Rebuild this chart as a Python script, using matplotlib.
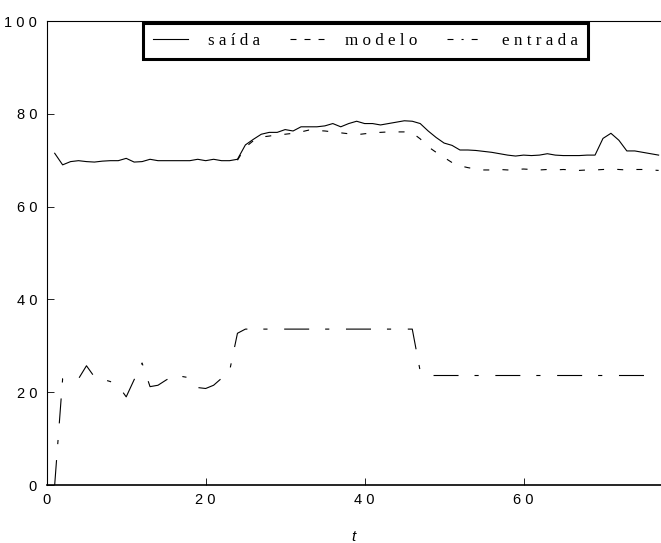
#Imports
import numpy as np
import matplotlib
matplotlib.use('Agg')
import matplotlib.pyplot as plt
from matplotlib.lines import Line2D

plt.rcParams['lines.scale_dashes'] = False

# Data (t in samples)
t = np.arange(1, 78)

saida = [71.5, 69.0, 69.7, 69.9, 69.7, 69.6, 69.8, 69.9, 69.9, 70.4,
         69.6, 69.7, 70.2, 69.9, 69.9, 69.9, 69.9, 69.9, 70.2, 69.9,
         70.2, 69.9, 69.9, 70.2, 73.3, 74.5, 75.6, 76.0, 76.0, 76.6,
         76.3, 77.2, 77.2, 77.2, 77.4, 77.9, 77.2, 77.9, 78.4, 77.9,
         77.9, 77.6, 77.9, 78.2, 78.5, 78.4, 77.9, 76.3, 74.9, 73.7,
         73.2, 72.2, 72.2, 72.1, 71.9, 71.7, 71.4, 71.1, 70.9, 71.1,
         71.0, 71.1, 71.4, 71.1, 71.0, 71.0, 71.0, 71.1, 71.1, 74.7,
         75.8, 74.3, 72.0, 72.0, 71.7, 71.4, 71.1]

t_modelo = np.arange(24, 78)
modelo = [70.0, 72.8, 74.2, 75.0, 75.2, 75.5, 75.6, 75.8, 76.1, 76.5,
          76.4, 76.3, 76.1, 75.9, 75.7, 75.5, 75.7, 75.9, 76.0, 76.1,
          76.1, 76.1, 75.9, 74.6, 72.9, 71.7, 70.6, 69.5, 68.8, 68.4,
          68.1, 67.9, 67.9, 68.0, 67.9, 68.0, 68.1, 68.0, 67.9, 68.0,
          67.9, 68.0, 67.9, 67.8, 67.9, 67.9, 68.0, 68.1, 68.0, 67.9,
          68.0, 68.0, 67.9, 67.8]

entrada = [0.0, 22.9, 22.9, 22.9, 25.7, 23.3, 22.8, 22.3, 21.4, 19.0,
           22.7, 26.3, 21.2, 21.5, 22.6, 23.6, 23.4, 23.1, 21.0, 20.8,
           21.5, 23.0, 24.5, 32.7, 33.6, 33.6, 33.6, 33.6, 33.6, 33.6,
           33.6, 33.6, 33.6, 33.6, 33.6, 33.6, 33.6, 33.6, 33.6, 33.6,
           33.6, 33.6, 33.6, 33.6, 33.6, 33.6, 24.5, 23.6, 23.6, 23.6,
           23.6, 23.6, 23.6, 23.6, 23.6, 23.6, 23.6, 23.6, 23.6, 23.6,
           23.6, 23.6, 23.6, 23.6, 23.6, 23.6, 23.6, 23.6, 23.6, 23.6,
           23.6, 23.6, 23.6, 23.6, 23.6, 23.6, 23.6]

xticks = [0, 20, 40, 60]
yticks = [0, 20, 40, 60, 80, 100]
labels = ['s a í d a', 'm o d e l o', 'e n t r a d a']

#Plot
fig = plt.figure(figsize=(6.61, 5.43), dpi=100)
ax = fig.add_axes([0.0707, 0.1068, 0.9293, 0.8545])

ax.plot(t, saida, color='k', lw=0.8)
ax.plot(t_modelo, modelo, color='k', lw=0.8, dashes=(4.3, 9.5))
ax.plot(t, entrada, color='k', lw=0.8, dashes=(18, 11.5, 3, 12))

ax.set_xlim(0, 77.3)
ax.set_ylim(0, 100)
ax.set_xticks(xticks)
ax.set_yticks(yticks)
ax.set_xticklabels([' '.join(str(v)) for v in xticks],
                   fontfamily='Liberation Sans', fontsize=10.5)
ax.set_yticklabels([' '.join(str(v)) for v in yticks],
                   fontfamily='Liberation Sans', fontsize=10.5)
ax.tick_params(direction='in', length=5, width=0.6, top=True, right=False)
ax.tick_params(axis='x', pad=6)
ax.tick_params(axis='y', pad=7)
ax.spines['right'].set_visible(False)
for s in ['left', 'top']:
    ax.spines[s].set_linewidth(0.8)
ax.spines['bottom'].set_linewidth(1.2)
ax.set_xlabel('t', fontfamily='Liberation Sans', fontstyle='italic',
              fontsize=11, labelpad=16)

# legend with its own handle dash patterns
handles = [Line2D([], [], color='k', lw=0.8),
           Line2D([], [], color='k', lw=0.8, dashes=(4.3, 5.8)),
           Line2D([], [], color='k', lw=0.8, dashes=(4.3, 5.8, 1.5, 5.8))]
leg = ax.legend(handles, labels, ncol=3, loc='upper left',
                bbox_to_anchor=(0.157, 0.996), borderaxespad=0,
                prop={'family': 'Liberation Serif', 'size': 12.3},
                handlelength=2.0, handletextpad=1.2, columnspacing=1.75,
                borderpad=0.6, fancybox=False, framealpha=1)
leg.get_frame().set_edgecolor('k')
leg.get_frame().set_linewidth(2.2)

fig.savefig('out.png', dpi=100)
